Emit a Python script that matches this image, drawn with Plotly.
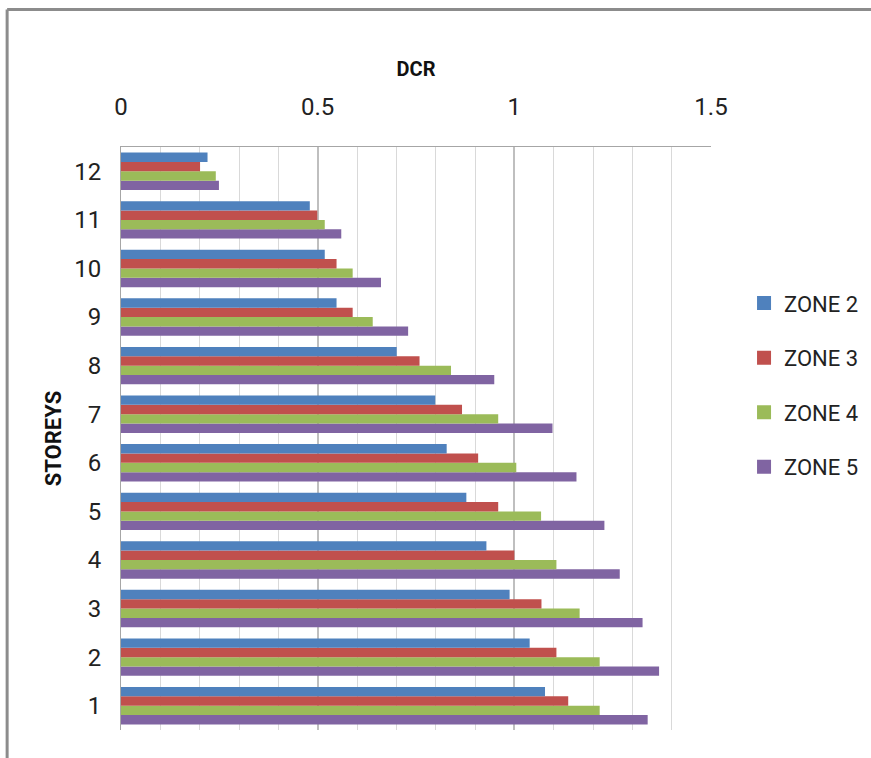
import plotly.graph_objects as go

storeys = ["1", "2", "3", "4", "5", "6", "7", "8", "9", "10", "11", "12"]
zone2 = [1.078, 1.039, 0.988, 0.929, 0.878, 0.828, 0.799, 0.701, 0.548, 0.518, 0.480, 0.220]
zone3 = [1.137, 1.107, 1.069, 1.000, 0.959, 0.908, 0.867, 0.759, 0.589, 0.548, 0.499, 0.201]
zone4 = [1.217, 1.217, 1.166, 1.107, 1.068, 1.005, 0.959, 0.839, 0.640, 0.589, 0.518, 0.241]
zone5 = [1.339, 1.368, 1.326, 1.268, 1.229, 1.158, 1.097, 0.949, 0.730, 0.661, 0.560, 0.249]
series_names = ["ZONE 2", "ZONE 3", "ZONE 4", "ZONE 5"]
series_vals = [zone2, zone3, zone4, zone5]
colors = ["#4F81BD", "#C0504D", "#9BBB59", "#8064A2"]
x_ticks = [0, 0.5, 1, 1.5]
x_tick_text = ["0", "0.5", "1", "1.5"]

FONT = "Liberation Sans Narrow, Arial Narrow, Roboto, sans-serif"

fig = go.Figure()
# add in reverse so ZONE 2 sits at the top of each group
for name, vals, col in reversed(list(zip(series_names, series_vals, colors))):
    fig.add_trace(go.Bar(
        y=storeys, x=vals, name=name, orientation="h",
        marker=dict(color=col, line=dict(width=0)),
        showlegend=False,
    ))

# legend entries with larger square swatches
for rank, (name, col) in enumerate(zip(series_names, colors)):
    fig.add_trace(go.Scatter(
        x=[None], y=[None], mode="markers", name=name,
        marker=dict(symbol="square", size=14, color=col),
        legendgroup=name, legendrank=rank + 1, showlegend=True,
    ))

fig.update_layout(
    width=871, height=758,
    margin=dict(l=121, r=160, t=147, b=28, autoexpand=False),
    paper_bgcolor="white", plot_bgcolor="white",
    barmode="group", bargap=0.23, bargroupgap=0,
    font=dict(family=FONT, color="#222222"),
    showlegend=True,
    legend=dict(
        x=1.056, y=0.768, xanchor="left", yanchor="top",
        traceorder="grouped", tracegroupgap=23,
        font=dict(size=22, family=FONT, color="#222222"),
        itemwidth=30,
    ),
    xaxis=dict(
        side="top", range=[0, 1.5], automargin=False,
        tickvals=x_ticks, ticktext=x_tick_text,
        tickfont=dict(size=24, family=FONT, color="#222222"),
        ticks="", ticklabelstandoff=21,
        showgrid=True, gridcolor="#BFBFBF", gridwidth=1.5,
        minor=dict(dtick=0.1, showgrid=True, gridcolor="#D9D9D9", gridwidth=1),
        showline=True, linecolor="#A6A6A6", linewidth=1,
        zeroline=False,
        title=dict(text="<b>DCR</b>", font=dict(size=20, family=FONT, color="#111111"), standoff=11),
    ),
    yaxis=dict(
        type="category", categoryorder="array", categoryarray=storeys, automargin=False,
        tickfont=dict(size=24, family=FONT, color="#222222"),
        ticks="", ticklabelstandoff=14,
        showgrid=False, showline=True, linecolor="#A6A6A6", linewidth=1,
        title=dict(text="<b>STOREYS</b>", font=dict(size=22, family=FONT, color="#111111"), standoff=6),
    ),
    shapes=[
        dict(type="line", xref="paper", yref="paper", x0=-0.193, x1=1.3, y0=1.236, y1=1.236,
             line=dict(color="#8C8C8C", width=3)),
        dict(type="line", xref="paper", yref="paper", x0=-0.193, x1=-0.193, y0=1.236, y1=-0.06,
             line=dict(color="#8C8C8C", width=3)),
    ],
)

fig.write_html("out.html", config={"displayModeBar": False},
               post_script="document.body.style.margin='0px';")
